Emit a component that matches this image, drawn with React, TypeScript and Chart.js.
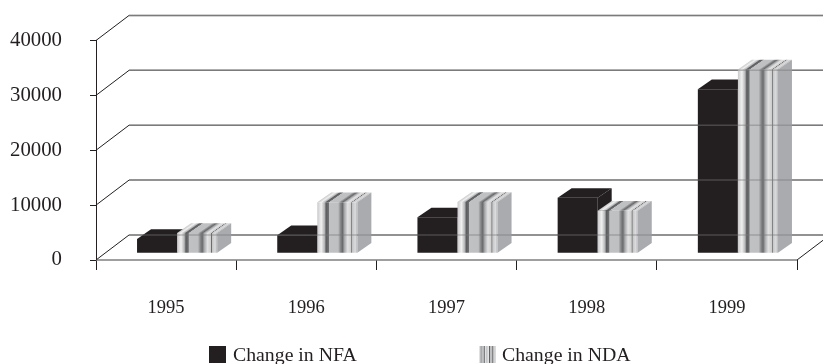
import { useEffect, useRef } from "react";
import { Chart, registerables } from "chart.js";

Chart.register(...registerables);

const years = ["1995", "1996", "1997", "1998", "1999"];
const changeInNFA = [2600, 3300, 6550, 10100, 29900];
const changeInNDA = [3700, 9300, 9350, 7750, 33500];
const valueTicks = [0, 10000, 20000, 30000, 40000];

const SERIF = '"Liberation Serif", "Times New Roman", serif';
const INK = "#231f20";
const GRID = "#7f7f81";
const SIDE = "#a9abae";

// Oblique offsets of the back wall and of the bars' depth and seat on the floor.
const WALL = { dx: 33, dy: -25 };
const DEPTH = { dx: 14, dy: -9.7 };
const SEAT = { dx: 11, dy: -6.7 };

// Cylinder-like shading repeated across each striped bar.
const STRIPES: [number, string][] = [
  [0, "#c8c9cb"],
  [0.1, "#f0f0f0"],
  [0.18, "#b5b6b8"],
  [0.22, "#5c5d5f"],
  [0.28, "#6f7072"],
  [0.3, "#c0c1c3"],
  [0.52, "#bfc0c2"],
  [0.58, "#88898b"],
  [0.63, "#6a6b6d"],
  [0.68, "#a8a9ab"],
  [0.76, "#e2e2e3"],
  [0.84, "#cfcfd0"],
  [0.86, "#6b6c6e"],
  [0.88, "#c5c6c8"],
  [0.95, "#dcdcdd"],
  [1, "#b5b6b8"],
];

function stripeGradient(ctx: CanvasRenderingContext2D, x0: number, x1: number) {
  const g = ctx.createLinearGradient(x0, 0, x1, 0);
  STRIPES.forEach(([at, colour]) => g.addColorStop(at, colour));
  return g;
}

function drawWalls(chart: any, stroke: string, frame: boolean) {
  const { ctx, chartArea, scales } = chart;
  const { left, right, bottom } = chartArea;
  ctx.save();
  ctx.lineWidth = 1.5;
  ctx.strokeStyle = stroke;
  valueTicks.forEach((v) => {
    const y = scales.y.getPixelForValue(v);
    ctx.beginPath();
    ctx.moveTo(left + WALL.dx, y + WALL.dy);
    ctx.lineTo(chart.width, y + WALL.dy);
    ctx.stroke();
  });
  if (frame) {
    ctx.beginPath();
    ctx.moveTo(left, bottom);
    ctx.lineTo(right, bottom);
    ctx.stroke();
    ctx.lineWidth = 1;
    ctx.strokeStyle = INK;
    valueTicks.forEach((v) => {
      const y = scales.y.getPixelForValue(v);
      ctx.beginPath();
      ctx.moveTo(left, y);
      ctx.lineTo(left + WALL.dx, y + WALL.dy);
      ctx.stroke();
    });
    ctx.beginPath();
    ctx.moveTo(right, bottom);
    ctx.lineTo(right + WALL.dx, bottom + WALL.dy);
    ctx.stroke();
  }
  ctx.restore();
}

// Paints a series as solid prisms: side and top faces first, then the library's front faces.
function drawPrisms(chart: any, index: number) {
  const { ctx } = chart;
  const meta = chart.getDatasetMeta(index);
  const striped = index === 1;
  ctx.save();
  ctx.translate(SEAT.dx, SEAT.dy);
  meta.data.forEach((bar: any) => {
    const x0 = bar.x - bar.width / 2;
    const x1 = bar.x + bar.width / 2;
    ctx.fillStyle = striped ? SIDE : INK;
    ctx.beginPath();
    ctx.moveTo(x1, bar.y);
    ctx.lineTo(x1 + DEPTH.dx, bar.y + DEPTH.dy);
    ctx.lineTo(x1 + DEPTH.dx, bar.base + DEPTH.dy);
    ctx.lineTo(x1, bar.base);
    ctx.closePath();
    ctx.fill();
    // Top face, sheared so the stripes run back along the depth.
    ctx.save();
    ctx.translate(0, bar.y);
    ctx.transform(1, 0, DEPTH.dx / DEPTH.dy, 1, 0, 0);
    ctx.fillStyle = striped ? stripeGradient(ctx, x0, x1) : INK;
    ctx.fillRect(x0, DEPTH.dy, x1 - x0, -DEPTH.dy);
    ctx.restore();
  });
  meta.controller.draw();
  ctx.restore();
}

const bars3d = {
  id: "bars3d",
  beforeDatasetsDraw(chart: any) {
    drawWalls(chart, GRID, true);
  },
  beforeDatasetDraw() {
    // Series are painted left to right below, so nearer faces overlap correctly.
    return false;
  },
  afterDatasetsDraw(chart: any) {
    drawPrisms(chart, 0);
    drawPrisms(chart, 1);
    // The wall lines show faintly through the bars.
    drawWalls(chart, "rgba(120,120,122,0.45)", false);
  },
  afterDraw(chart: any) {
    const { ctx, data } = chart;
    const entries = [
      { swatchX: 209, textX: 233 },
      { swatchX: 479, textX: 502 },
    ];
    ctx.save();
    ctx.font = `19.8px ${SERIF}`;
    ctx.textBaseline = "alphabetic";
    entries.forEach((entry, i) => {
      if (i === 0) {
        ctx.fillStyle = INK;
        ctx.fillRect(entry.swatchX, 346, 17, 17);
      } else {
        // The striped swatch repeats the shading twice at its small size.
        [0, 8.5].forEach((step) => {
          const from = entry.swatchX + step;
          ctx.fillStyle = stripeGradient(ctx, from, from + 8.5);
          ctx.fillRect(from, 346, 8.5, 17);
        });
      }
      ctx.fillStyle = INK;
      ctx.fillText(data.datasets[i].label, entry.textX, 361);
    });
    ctx.restore();
  },
};

export default function App() {
  const ref = useRef<HTMLCanvasElement>(null);

  useEffect(() => {
    const chart = new Chart(ref.current!, {
      type: "bar",
      data: {
        labels: years,
        datasets: [
          {
            label: "Change in NFA",
            data: changeInNFA,
            backgroundColor: INK,
          },
          {
            label: "Change in NDA",
            data: changeInNDA,
            backgroundColor: (c: any) => {
              const x = c.chart.scales?.x;
              if (!x || c.dataIndex === undefined) return SIDE;
              const left = x.getPixelForTick(c.dataIndex);
              return stripeGradient(c.chart.ctx, left, left + 40);
            },
          },
        ],
      },
      options: {
        responsive: false,
        animation: false,
        layout: {
          autoPadding: false,
          padding: { top: 40, right: 26, bottom: 0, left: 0 },
        },
        datasets: { bar: { barPercentage: 1, categoryPercentage: 80 / 140 } },
        plugins: { legend: { display: false }, tooltip: { enabled: false } },
        scales: {
          x: {
            afterFit: (s: any) => {
              s.height = 104;
            },
            border: { color: INK, display: false },
            grid: {
              drawOnChartArea: false,
              tickLength: 10,
              tickColor: INK,
              offset: true,
            },
            ticks: {
              color: INK,
              padding: 27,
              maxRotation: 0,
              font: { family: SERIF, size: 18.5 },
            },
          },
          y: {
            min: 0,
            max: 40000,
            afterFit: (s: any) => {
              s.width = 96;
            },
            afterBuildTicks: (s: any) => {
              s.ticks = valueTicks.map((value) => ({ value }));
            },
            border: { color: INK, width: 1 },
            grid: { drawOnChartArea: false, tickLength: 6, tickColor: INK },
            ticks: {
              color: INK,
              padding: 28,
              font: { family: SERIF, size: 20.8 },
              callback: (v: any) => String(v),
            },
          },
        },
      },
      plugins: [bars3d],
    } as any);
    return () => chart.destroy();
  }, []);

  return (
    <div style={{ position: "fixed", left: 0, top: 0 }}>
      <canvas ref={ref} width={823} height={364} style={{ display: "block" }} />
    </div>
  );
}
